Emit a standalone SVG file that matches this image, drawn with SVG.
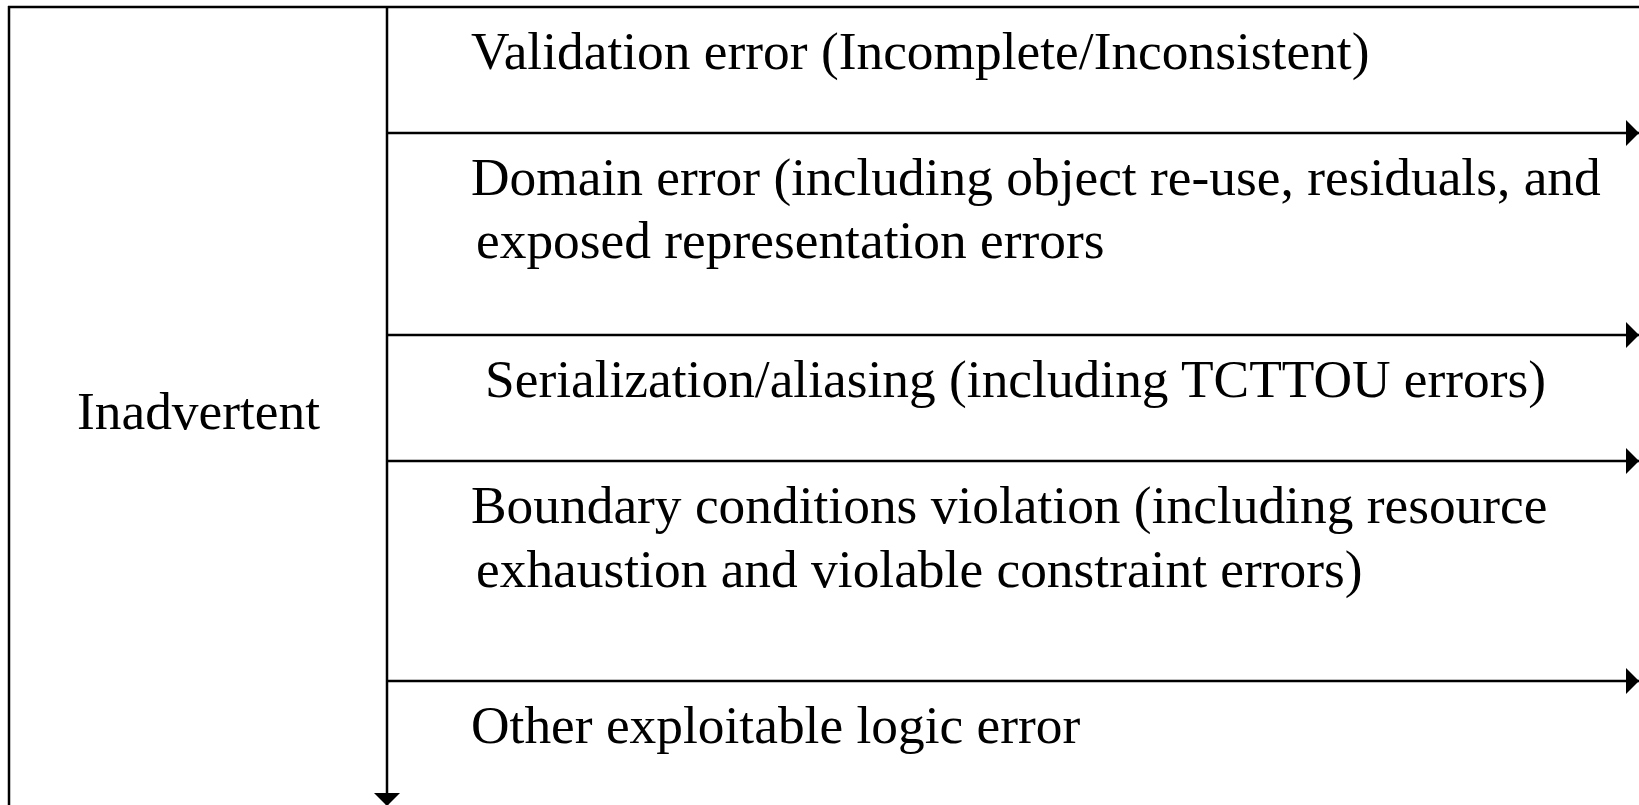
<svg xmlns="http://www.w3.org/2000/svg" width="1639" height="805" viewBox="0 0 1639 805">
  <style>
    .ln { stroke: #000; stroke-width: 2.5; fill: none; }
    .t { font-family: "Liberation Serif", "Times New Roman", serif; font-size: 53.4px; fill: #000; }
  </style>
  <defs>
    <marker id="ah" markerUnits="userSpaceOnUse" markerWidth="14" markerHeight="26" refX="13" refY="13" orient="auto">
      <path d="M0,0 L13,13 L0,26 Z" fill="#000"/>
    </marker>
  </defs>
  <rect width="1639" height="805" fill="#fff"/>
  <g id="frame">
    <line class="ln" x1="8" y1="7" x2="1639" y2="7"/>
    <line class="ln" x1="9" y1="6" x2="9" y2="805"/>
  </g>
  <g id="connectors">
    <line class="ln" x1="387" y1="7" x2="387" y2="806" marker-end="url(#ah)"/>
    <line class="ln" x1="387" y1="133" x2="1639" y2="133" marker-end="url(#ah)"/>
    <line class="ln" x1="387" y1="335" x2="1639" y2="335" marker-end="url(#ah)"/>
    <line class="ln" x1="387" y1="461" x2="1639" y2="461" marker-end="url(#ah)"/>
    <line class="ln" x1="387" y1="681" x2="1639" y2="681" marker-end="url(#ah)"/>
  </g>
  <g id="node-inadvertent">
    <text class="t" x="77" y="429">Inadvertent</text>
  </g>
  <g id="node-validation">
    <text class="t" x="471" y="69">Validation error (Incomplete/Inconsistent)</text>
  </g>
  <g id="node-domain">
    <text class="t" x="471" y="195">Domain error (including object re-use, residuals, and</text>
    <text class="t" x="476" y="258">exposed representation errors</text>
  </g>
  <g id="node-serialization">
    <text class="t" x="485" y="397">Serialization/aliasing (including TCTTOU errors)</text>
  </g>
  <g id="node-boundary">
    <text class="t" x="471" y="523">Boundary conditions violation (including resource</text>
    <text class="t" x="476" y="587">exhaustion and violable constraint errors)</text>
  </g>
  <g id="node-other">
    <text class="t" x="471" y="743">Other exploitable logic error</text>
  </g>
</svg>
